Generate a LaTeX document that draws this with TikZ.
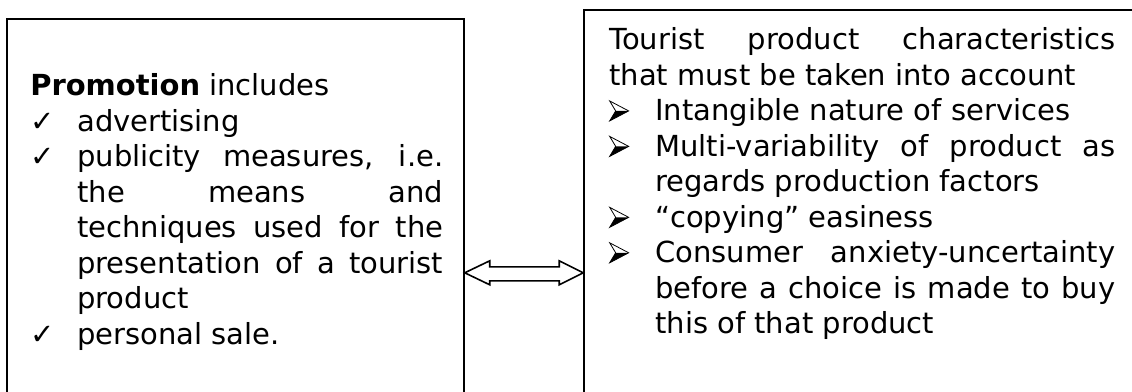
\documentclass[tikz,border=0pt]{standalone}
\usepackage{fontspec}
\setmainfont{DejaVu Sans}
\usetikzlibrary{calc,fit}
\newcommand{\headmark}{\tikz[x=0.75pt,y=0.75pt,baseline=0pt,line width=0.6pt,line join=miter]{%
	\fill (6,10) -- (19,10) -- (0,0) -- cycle;
	\draw (0,20) -- (19,10) -- (0,0) -- (6,10) -- cycle;}}
\newcommand{\tickitem}[1]{\par\noindent\hangindent=35.25pt\hangafter=1\makebox[35.25pt][l]{✓}#1}
\newcommand{\headitem}[1]{\par\noindent\hangindent=34.5pt\hangafter=1\makebox[34.5pt][l]{\headmark}#1}

\begin{document}
\begin{tikzpicture}[x=0.75pt,y=-0.75pt,
		box/.style={draw, line width=1.1pt, inner sep=0pt},
		txt/.style={anchor=base west, inner sep=0pt, align=justify, font=\fontsize{21.75pt}{26.6pt}\selectfont}]
			%%%%% START %%%%%
			
			\useasboundingbox (0,0) rectangle (1132,392);
			\clip (0,0) rectangle (1132,392);
			
			\coordinate (p1) at (7,19);
			\coordinate (p2) at (464,430);
			\node[box, fit=(p1)(p2)] (promo) {};
			
			\coordinate (q1) at (584,10);
			\coordinate (q2) at (1170,430);
			\node[box, fit=(q1)(q2)] (tourist) {};
			
			\node[txt, text width=309.75pt] (promotext) at (30,96) {\parskip=0pt
				\noindent\textbf{Promotion} includes
				\tickitem{advertising}
				\tickitem{publicity measures, i.e.\linebreak the means and\linebreak techniques used for the\linebreak presentation of a tourist\linebreak product}
				\tickitem{personal sale.}\par};
			
			\node[txt, text width=379.5pt] (touristtext) at (609,50) {\parskip=0pt
				\noindent Tourist product characteristics\linebreak that must be taken into account
				\headitem{Intangible nature of services}
				\headitem{Multi-variability of product as\linebreak regards production factors}
				\headitem{“copying” easiness}
				\headitem{Consumer anxiety-uncertainty\linebreak before a choice is made to buy\linebreak this of that product}\par};
			
			\coordinate (mid) at (0,272.8);
			\coordinate (a) at (promo.east |- mid);
			\coordinate (b) at (tourist.west |- mid);
			\draw[line width=1.2pt, fill=white] (a) -- ($(a)+(25,-12)$) -- ($(a)+(25,-6)$) -- ($(b)+(-24,-6)$) -- ($(b)+(-24,-12)$) -- (b) -- ($(b)+(-24,12)$) -- ($(b)+(-24,8)$) -- ($(a)+(25,8)$) -- ($(a)+(25,12)$) -- cycle;
			
			%%%%% END %%%%%
		\end{tikzpicture}
\end{document}
